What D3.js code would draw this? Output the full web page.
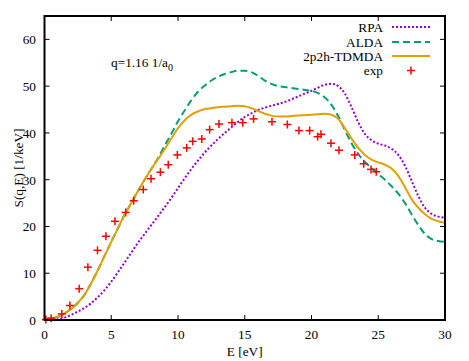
<!DOCTYPE html>
<html>
<head>
<meta charset="utf-8">
<script src="https://cdn.jsdelivr.net/npm/d3@7"></script>
<style>
  body { margin: 0; background: #fff; }
  svg text { font-family: "Liberation Serif", "Times New Roman", "DejaVu Serif", serif; font-size: 13.3px; fill: #000; }
</style>
</head>
<body>
<svg id="chart" width="469" height="361" font-family="Liberation Serif, Times New Roman, serif"></svg>
<script>
// energy grid shared by the three calculated curves
var energy = [0,0.5,1,1.5,2,2.5,3,3.5,4,4.5,5,5.5,6,6.5,7,7.5,8,8.5,9,9.5,10,
  10.5,11,11.5,12,12.5,13,13.5,14,14.5,15,15.5,16,16.5,17,17.5,18,18.5,19,19.5,20,
  20.5,21,21.5,22,22.5,23,23.5,24,24.5,25,25.5,26,26.5,27,27.5,28,28.5,29,29.5,30];

var rpa = [0,0.05,0.15,0.5,1.1,1.8,2.6,3.6,4.9,6.4,8.2,10.2,12.3,14.4,16.5,18.4,20.3,22.2,24.1,26.1,28.2,
  30.3,32.3,34.1,35.8,37.3,38.7,40.0,41.2,42.4,43.4,44.2,44.9,45.4,45.8,46.2,46.6,47.2,47.8,48.4,49.0,
  49.7,50.3,50.5,50.0,48.4,45.5,42.3,39.8,38.4,37.7,37.3,36.6,35.3,33.0,29.8,26.5,24.0,22.7,22.1,21.9];

var alda = [0.1,0.3,0.7,1.4,2.4,3.7,5.4,7.9,10.7,13.7,16.7,19.6,22.5,25.0,27.6,30.0,32.3,34.6,37.3,39.8,42.5,
  44.8,47.0,48.8,50.1,51.2,52.0,52.6,53.0,53.3,53.3,53.0,52.2,51.2,50.5,50.0,49.8,49.6,49.4,49.2,49.0,
  48.5,47.6,46.0,43.6,40.6,37.8,35.5,33.8,32.5,31.2,30.0,28.6,27.0,25.0,22.6,20.3,18.4,17.3,16.9,16.7];

var tdmda = [0.1,0.3,0.7,1.4,2.4,3.7,5.4,7.9,10.7,13.7,16.7,19.6,22.5,25.0,27.6,30.0,32.3,34.4,36.5,38.8,41.0,
  42.7,43.9,44.6,45.1,45.3,45.5,45.6,45.7,45.8,45.7,45.3,44.7,44.1,43.7,43.5,43.5,43.6,43.7,43.8,43.9,
  44.0,44.1,43.9,43.0,41.0,38.8,36.8,35.3,34.3,33.7,33.2,32.4,30.8,28.4,25.8,24.0,22.6,21.6,21.1,20.8];

// experimental points
var expE = [0.1,0.5,1.3,1.9,2.6,3.25,3.97,4.6,5.28,6.08,6.68,7.4,7.98,8.68,9.27,9.95,10.65,11.1,11.78,
  12.37,13.07,14.04,14.85,15.66,17.04,18.19,19.06,19.86,20.46,20.71,21.46,22.06,23.24,23.91,24.46,24.85];
var expS = [0.1,0.4,1.3,3.1,6.7,11.3,14.9,17.9,21.1,23.0,25.5,27.9,30.2,31.6,33.2,35.3,36.8,38.2,38.7,
  40.7,41.9,42.2,42.2,43.0,42.4,41.8,40.5,40.5,39.2,39.7,37.8,36.3,35.3,33.4,32.2,31.7];

var xTicks = [0,5,10,15,20,25,30],
    yTicks = [0,10,20,30,40,50,60];

var series = [
  { name: "RPA", values: rpa, color: "#9400d3", dash: "2,2" },
  { name: "ALDA", values: alda, color: "#009e73", dash: "7,4" },
  { name: "2p2h-TDMDA", values: tdmda, color: "#e69f00", dash: null }
];

var svg = d3.select("#chart");
var plotL = 44.5, plotR = 445, plotT = 16, plotB = 320;

var x = d3.scaleLinear().domain([0, 30]).range([plotL, plotR]);
var y = d3.scaleLinear().domain([0, 65]).range([plotB, plotT]);

// ticks on all four sides, pointing inward
var tickLen = 5;
var ticks = svg.append("g").attr("stroke", "#000").attr("stroke-width", 1);
xTicks.forEach(function(d) {
  ticks.append("line").attr("x1", x(d)).attr("x2", x(d)).attr("y1", plotB).attr("y2", plotB - tickLen);
  ticks.append("line").attr("x1", x(d)).attr("x2", x(d)).attr("y1", plotT).attr("y2", plotT + tickLen);
});
yTicks.forEach(function(d) {
  ticks.append("line").attr("y1", y(d)).attr("y2", y(d)).attr("x1", plotL).attr("x2", plotL + tickLen);
  ticks.append("line").attr("y1", y(d)).attr("y2", y(d)).attr("x1", plotR).attr("x2", plotR - tickLen);
});

svg.append("g").selectAll("text").data(xTicks).enter().append("text")
   .attr("x", function(d) { return x(d); }).attr("y", 339)
   .attr("text-anchor", "middle").text(function(d) { return d; });
svg.append("g").selectAll("text").data(yTicks).enter().append("text")
   .attr("x", 36).attr("y", function(d) { return y(d) + 5; })
   .attr("text-anchor", "end").text(function(d) { return d; });

svg.append("text").attr("x", (plotL + plotR) / 2).attr("y", 356)
   .attr("text-anchor", "middle").text("E [eV]");
svg.append("text").attr("transform", "translate(23," + (plotT + plotB) / 2 + ") rotate(-90)")
   .attr("text-anchor", "middle").text("S(q,E) [1/keV]");

// annotation
var note = svg.append("text").attr("x", 111).attr("y", 67);
note.append("tspan").text("q=1.16 1/a");
note.append("tspan").attr("dy", 4).style("font-size", "10px").text("0");

// curves
var line = d3.line()
  .x(function(d) { return x(d[0]); })
  .y(function(d) { return y(d[1]); })
  .curve(d3.curveMonotoneX);

series.forEach(function(s) {
  svg.append("path")
     .datum(energy.map(function(e, i) { return [e, s.values[i]]; }))
     .attr("d", line)
     .attr("fill", "none")
     .attr("stroke", s.color)
     .attr("stroke-width", 2)
     .attr("stroke-dasharray", s.dash);
});

// experiment crosses
function plus(g, cx, cy, r) {
  g.append("line").attr("x1", cx - r).attr("x2", cx + r).attr("y1", cy).attr("y2", cy);
  g.append("line").attr("x1", cx).attr("x2", cx).attr("y1", cy - r).attr("y2", cy + r);
}
var pts = svg.append("g").attr("stroke", "#ff0000").attr("stroke-width", 1.5);
expE.forEach(function(e, i) { plus(pts, x(e), y(expS[i]), 4); });

// legend
var legendY = [27, 42, 56];
series.forEach(function(s, i) {
  svg.append("text").attr("x", 383).attr("y", legendY[i] + 5)
     .attr("text-anchor", "end").text(s.name);
  svg.append("line").attr("x1", 392).attr("x2", 430)
     .attr("y1", legendY[i]).attr("y2", legendY[i])
     .attr("stroke", s.color).attr("stroke-width", 2)
     .attr("stroke-dasharray", s.dash);
});
svg.append("text").attr("x", 383).attr("y", 75).attr("text-anchor", "end").text("exp");
plus(svg.append("g").attr("stroke", "#ff0000").attr("stroke-width", 1.5), 411, 70.5, 4);

// frame
svg.append("rect").attr("x", plotL).attr("y", plotT)
   .attr("width", plotR - plotL).attr("height", plotB - plotT)
   .attr("fill", "none").attr("stroke", "#000").attr("stroke-width", 2);
</script>
</body>
</html>
